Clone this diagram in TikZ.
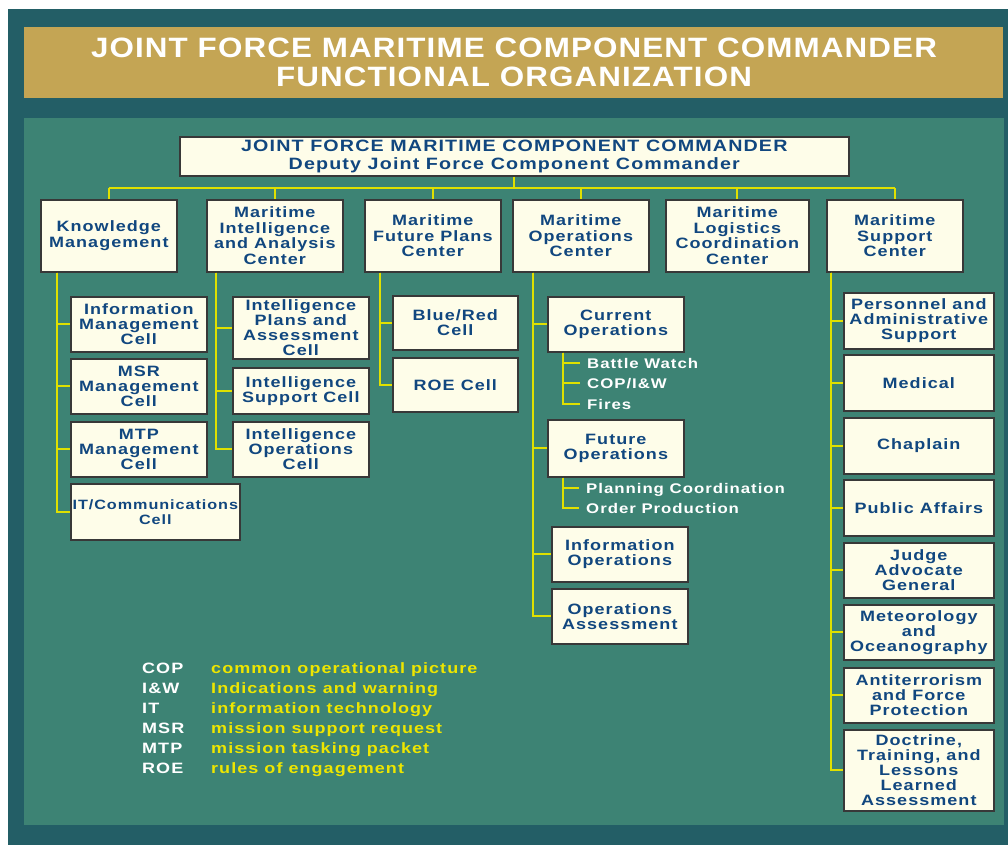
\documentclass[tikz,border=0pt]{standalone}
\usepackage{fontspec}
\setmainfont{Liberation Sans}
\newfontfamily\wideface{Liberation Sans}[FakeStretch=1.2,LetterSpace=7]
\newfontfamily\titleface{Liberation Sans}[FakeStretch=1.12,LetterSpace=4]
\usetikzlibrary{calc}

\definecolor{frameteal}{HTML}{235E66}
\definecolor{bannergold}{HTML}{C4A554}
\definecolor{panelgreen}{HTML}{3D8374}
\definecolor{boxcream}{HTML}{FEFDE9}
\definecolor{boxedge}{HTML}{383838}
\definecolor{navy}{HTML}{11477F}
\definecolor{linkyellow}{HTML}{E0E000}
\definecolor{legendyellow}{HTML}{EEE600}

\tikzset{
  box/.style={draw=boxedge, line width=1.6pt, fill=boxcream, text=navy,
    font=\wideface\bfseries\fontsize{15}{15}\selectfont, align=center,
    inner sep=0pt, anchor=north west},
  headbox/.style={box, font=\wideface\bfseries\fontsize{15}{15.5}\selectfont},
  link/.style={draw=linkyellow, line width=1.8pt},
  subitem/.style={text=white, font=\wideface\bfseries\fontsize{14}{14}\selectfont,
    anchor=west, inner sep=0pt, text height=10pt, text depth=0pt},
  abbr/.style={text=white, font=\wideface\bfseries\fontsize{15}{15}\selectfont,
    anchor=base west, inner sep=0pt},
  meaning/.style={text=legendyellow, font=\wideface\bfseries\fontsize{15}{15}\selectfont,
    anchor=base west, inner sep=0pt}
}

% \cell{name}{x}{y}{width}{height}{text}
\newcommand\cell[6]{\node[box, minimum width=#4pt, minimum height=#5pt] (#1) at (#2,#3) {#6};}
\newcommand\headcell[6]{\node[headbox, minimum width=#4pt, minimum height=#5pt] (#1) at (#2,#3) {#6};}

\begin{document}
\begin{tikzpicture}[x=1pt, y=-1pt]
\useasboundingbox (0,0) rectangle (1008,845);
\fill[white] (0,0) rectangle (1008,845);
\fill[frameteal] (8,9) rectangle (1008,845);
\fill[bannergold] (24,27) rectangle (1003,98);
\fill[panelgreen] (24,118) rectangle (1004,825);

% banner title
\node[text=white, font=\titleface\bfseries\fontsize{28}{29}\selectfont, align=center, inner sep=0pt]
  (title) at (514,62.5) {JOINT FORCE MARITIME COMPONENT COMMANDER\\FUNCTIONAL ORGANIZATION};

% commander
\node[box, font=\wideface\bfseries\fontsize{16.4}{18}\selectfont, minimum width=669pt, minimum height=39pt]
  (jfmcc) at (179,136) {JOINT FORCE MARITIME COMPONENT COMMANDER\\Deputy Joint Force Component Commander};

% centers
\headcell{km}{40}{199}{136}{72}{Knowledge\\Management}
\headcell{miac}{206}{199}{136}{72}{Maritime\\Intelligence\\and Analysis\\Center}
\headcell{mfpc}{364}{199}{136}{72}{Maritime\\Future Plans\\Center}
\headcell{moc}{512}{199}{136}{72}{Maritime\\Operations\\Center}
\headcell{mlcc}{665}{199}{143}{72}{Maritime\\Logistics\\Coordination\\Center}
\headcell{msc}{826}{199}{136}{72}{Maritime\\Support\\Center}

% knowledge management cells
\cell{imc}{70}{296}{136}{55}{Information\\Management\\Cell}
\cell{msr}{70}{358}{136}{55}{MSR\\Management\\Cell}
\cell{mtp}{70}{421}{136}{55}{MTP\\Management\\Cell}
\node[box, font=\wideface\bfseries\fontsize{13.5}{15}\selectfont, minimum width=169pt, minimum height=56pt]
  (itc) at (70,483) {IT/Communications\\Cell};

% intelligence cells
\cell{ipa}{232}{296}{136}{62}{Intelligence\\Plans and\\Assessment\\Cell}
\cell{isc}{232}{367}{136}{46}{Intelligence\\Support Cell}
\cell{ioc}{232}{421}{136}{55}{Intelligence\\Operations\\Cell}

% future plans cells
\cell{brc}{392}{295}{125}{54}{Blue/Red\\Cell}
\cell{roe}{392}{357}{125}{54}{ROE Cell}

% operations cells
\cell{cur}{547}{296}{136}{55}{Current\\Operations}
\cell{fut}{547}{419}{136}{57}{Future\\Operations}
\cell{info}{551}{526}{136}{55}{Information\\Operations}
\cell{assess}{551}{588}{136}{55}{Operations\\Assessment}

\node[subitem] (bw)  at (587,363) {Battle Watch};
\node[subitem] (cop) at (587,383) {COP/I\&W};
\node[subitem] (fir) at (587,404) {Fires};
\node[subitem] (pc)  at (586,488) {Planning Coordination};
\node[subitem] (op)  at (586,508) {Order Production};

% support cells
\cell{pas}{843}{292}{150}{56}{Personnel and\\Administrative\\Support}
\cell{med}{843}{354}{150}{56}{Medical}
\cell{chap}{843}{417}{150}{56}{Chaplain}
\cell{pa}{843}{479}{150}{56}{Public Affairs}
\cell{jag}{843}{542}{150}{55}{Judge\\Advocate\\General}
\cell{met}{843}{604}{150}{55}{Meteorology\\and\\Oceanography}
\cell{atfp}{843}{667}{150}{55}{Antiterrorism\\and Force\\Protection}
\cell{dtl}{843}{729}{150}{81}{Doctrine,\\Training, and\\Lessons\\Learned\\Assessment}

% legend
\node[abbr] (a1) at (142,673) {COP};  \node[meaning] (m1) at (211,673) {common operational picture};
\node[abbr] (a2) at (142,693) {I\&W};  \node[meaning] (m2) at (211,693) {Indications and warning};
\node[abbr] (a3) at (142,713) {IT};   \node[meaning] (m3) at (211,713) {information technology};
\node[abbr] (a4) at (142,733) {MSR};  \node[meaning] (m4) at (211,733) {mission support request};
\node[abbr] (a5) at (142,753) {MTP};  \node[meaning] (m5) at (211,753) {mission tasking packet};
\node[abbr] (a6) at (142,773) {ROE};  \node[meaning] (m6) at (211,773) {rules of engagement};

% bus from the commander to the centers
\coordinate (busy) at (0,188);
\draw[link] (jfmcc.south) -- (jfmcc.south |- busy);
\draw[link] (km.north |- busy) -- (msc.north |- busy);
\foreach \c in {km,miac,mfpc,moc,mlcc,msc}
  \draw[link] (\c.north |- busy) -- (\c.north);

% branch trunks below the centers
\coordinate (kmv)   at ([xshift=17pt]km.south west);
\coordinate (miacv) at ([xshift=10pt]miac.south west);
\coordinate (mfpcv) at ([xshift=16pt]mfpc.south west);
\coordinate (mocv)  at ([xshift=21pt]moc.south west);
\coordinate (mscv)  at ([xshift=5pt]msc.south west);
\coordinate (curv)  at ([xshift=16pt]cur.south west);
\coordinate (futv)  at ([xshift=16pt]fut.south west);

\foreach \c in {imc,msr,mtp,itc} \draw[link] (kmv) |- (\c.west);
\foreach \c in {ipa,isc,ioc} \draw[link] (miacv) |- (\c.west);
\foreach \c in {brc,roe} \draw[link] (mfpcv) |- (\c.west);
\foreach \c in {cur,fut,info,assess} \draw[link] (mocv) |- (\c.west);
\foreach \c in {pas,med,chap,pa,jag,met,atfp,dtl} \draw[link] (mscv) |- (\c.west);
\foreach \c in {bw,cop,fir} \draw[link] (curv) |- ([xshift=-7pt]\c.west);
\foreach \c in {pc,op} \draw[link] (futv) |- ([xshift=-7pt]\c.west);
\end{tikzpicture}
\end{document}
